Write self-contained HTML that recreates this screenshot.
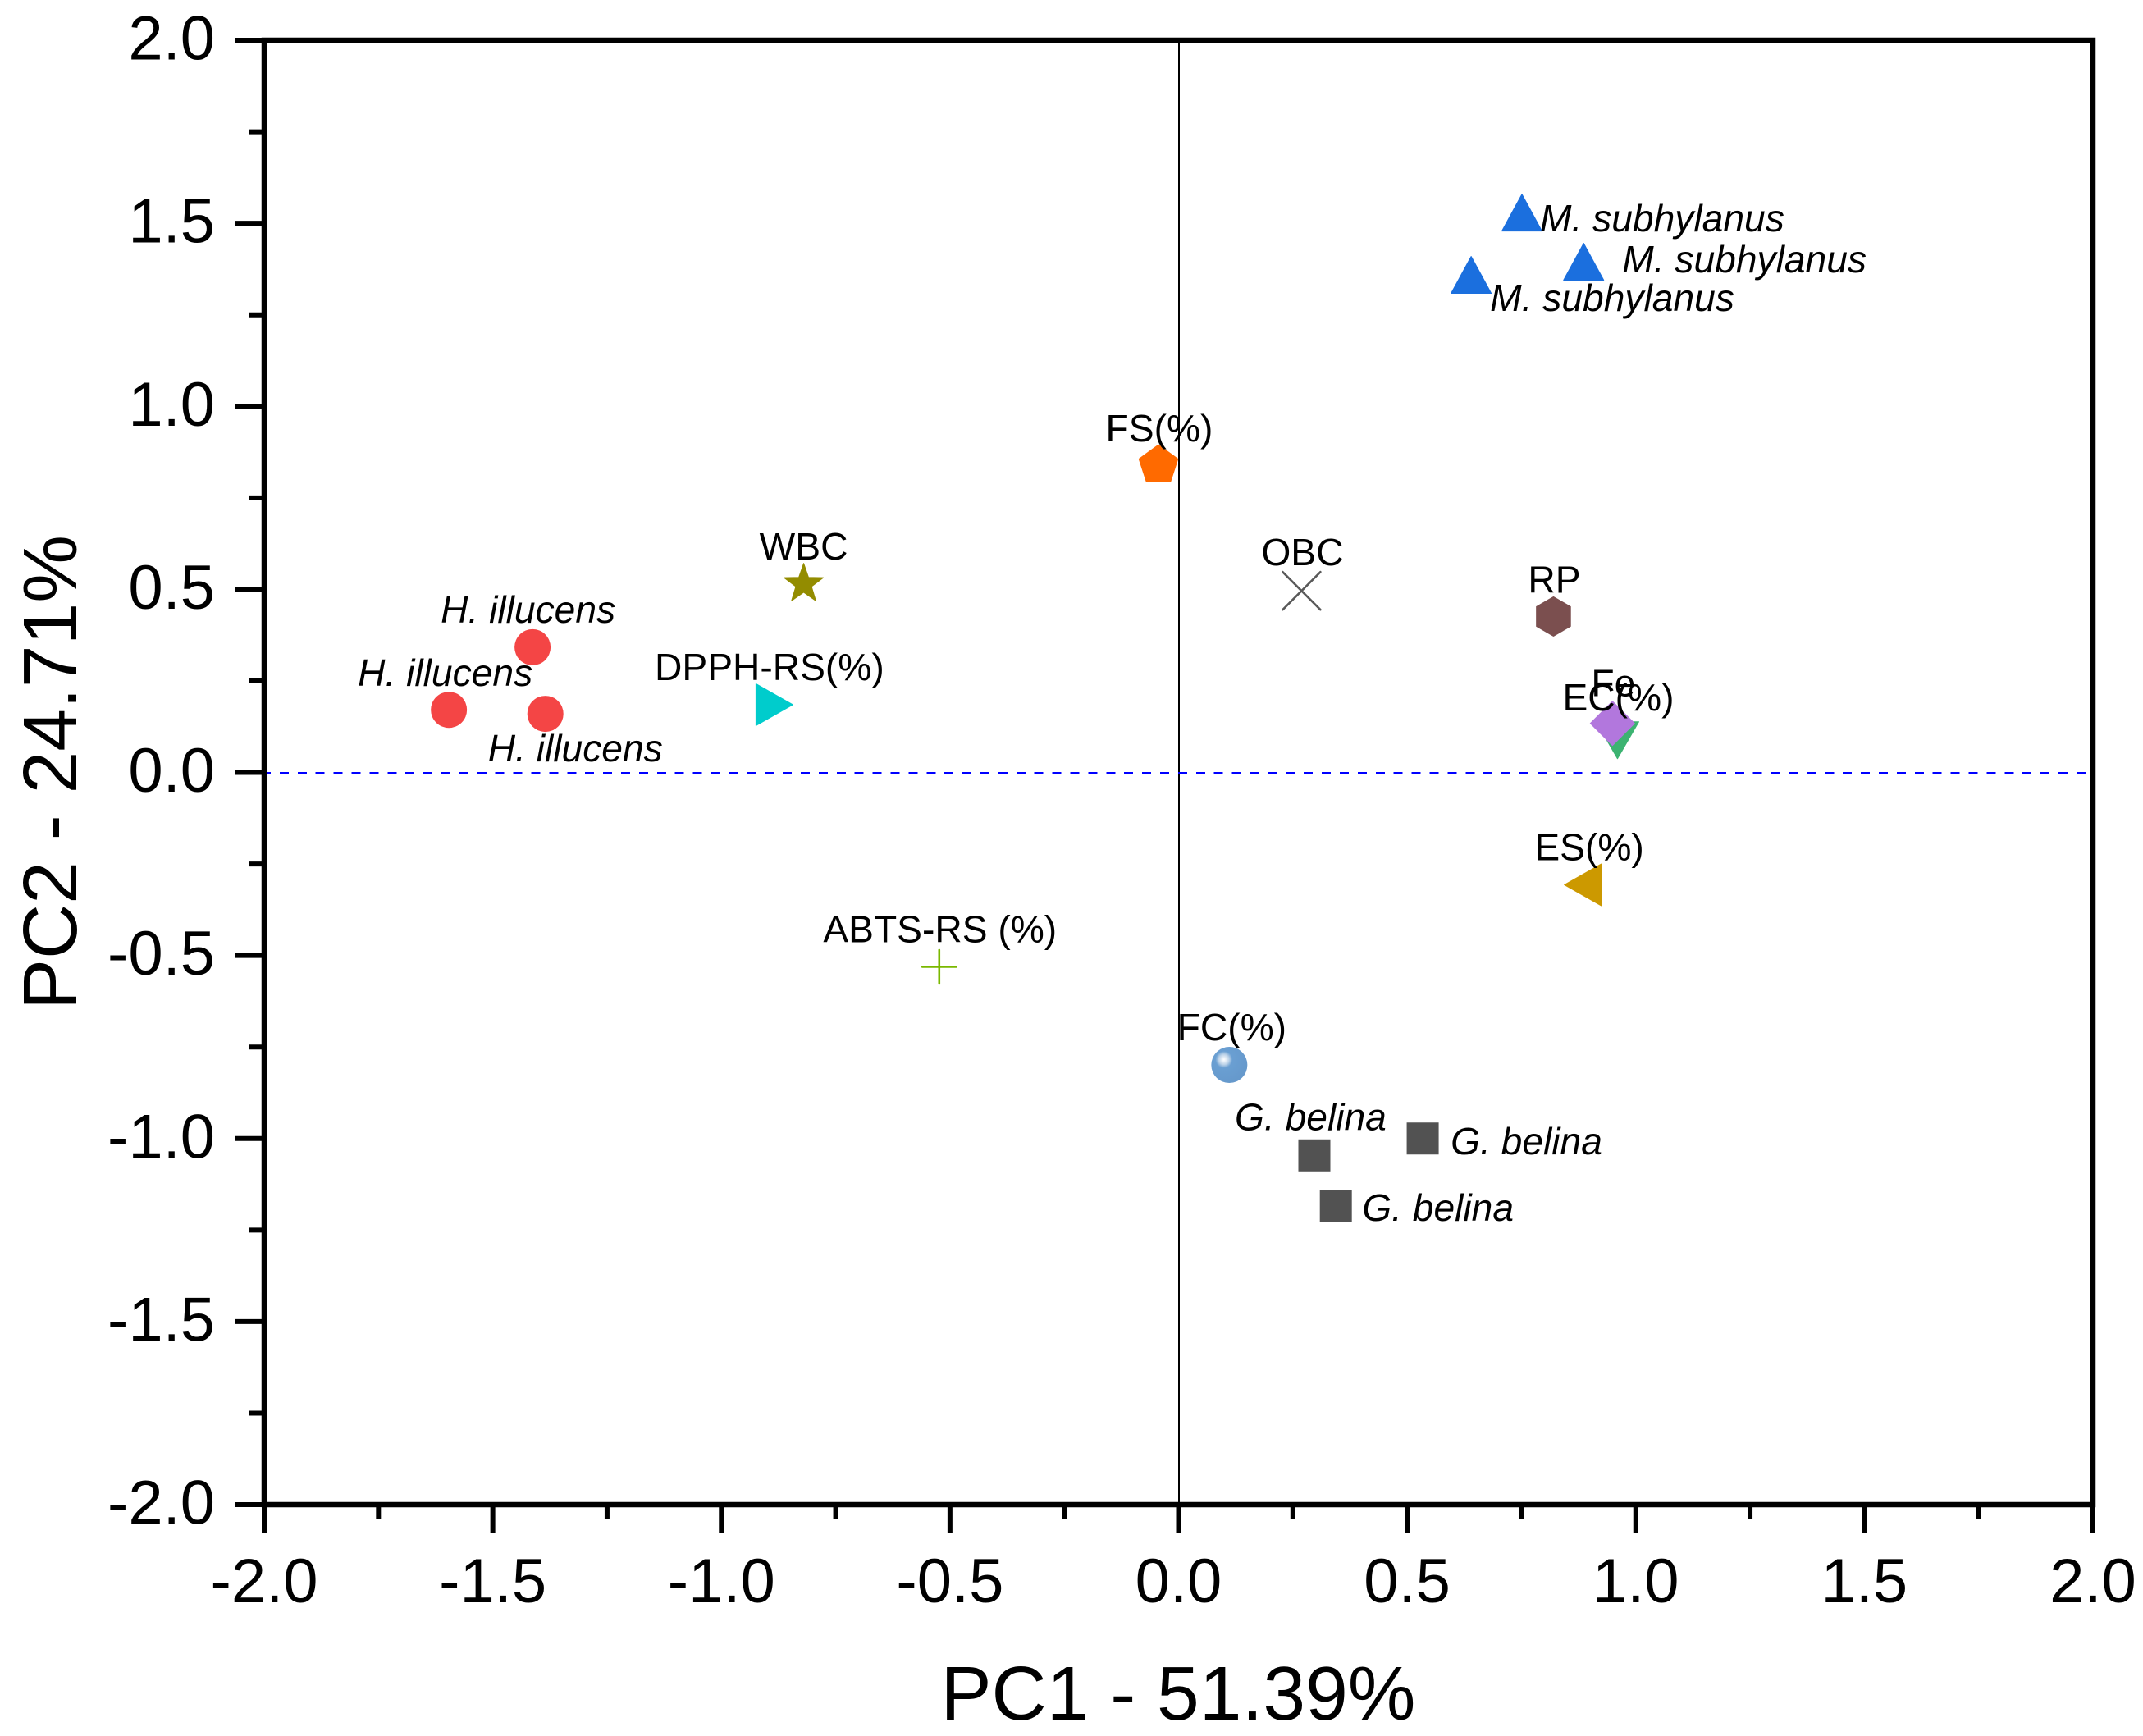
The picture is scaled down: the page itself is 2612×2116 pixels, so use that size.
<!DOCTYPE html>
<html lang="en">
<head>
<meta charset="utf-8">
<title>PCA biplot PC1 vs PC2</title>
<style>
html,body{margin:0;padding:0;background:#fff;width:2612px;height:2116px;overflow:hidden}
svg{display:block;font-family:"Liberation Sans",Arial,sans-serif}
</style>
</head>
<body>
<svg id="chart" xmlns="http://www.w3.org/2000/svg" width="2612" height="2116" viewBox="0 0 2612 2116">
  <defs>
    <radialGradient id="ball-gradient" gradientUnits="objectBoundingBox" cx="0.35" cy="0.35" r="0.65" fx="0.35" fy="0.35">
      <stop offset="0" stop-color="#ffffff"/>
      <stop offset="0.1" stop-color="#e4edf6"/>
      <stop offset="0.22" stop-color="#bcd2e8"/>
      <stop offset="0.36" stop-color="#6a9fd2"/>
      <stop offset="1" stop-color="#6699cc"/>
    </radialGradient>
  </defs>
  <rect x="0" y="0" width="2612" height="2116" fill="#ffffff"/>
  <g id="reference-lines"></g>
  <g id="axes"></g>
  <g id="marks"></g>
  <g id="labels"></g>
  <text x="1436" y="2096" font-size="93" text-anchor="middle" fill="#000">PC1 - 51.39%</text>
  <text x="0" y="0" transform="translate(93 941.5) rotate(-90)" font-size="93" text-anchor="middle" fill="#000">PC2 - 24.71%</text>
</svg>
<script>
// ---- Axis data ----
const xMajorTicks = [-2, -1.5, -1, -0.5, 0, 0.5, 1, 1.5, 2];
const xMinorTicks = [-1.75, -1.25, -0.75, -0.25, 0.25, 0.75, 1.25, 1.75];
const yMajorTicks = [-2, -1.5, -1, -0.5, 0, 0.5, 1, 1.5, 2];
const yMinorTicks = [-1.75, -1.25, -0.75, -0.25, 0.25, 0.75, 1.25, 1.75];
const tickLabels = ['-2.0', '-1.5', '-1.0', '-0.5', '0.0', '0.5', '1.0', '1.5', '2.0'];

// ---- Sample scores ----
const hIllucensPC1 = [-1.413, -1.596, -1.385];
const hIllucensPC2 = [0.342, 0.171, 0.160];
const mSubhylanusPC1 = [0.751, 0.886, 0.640];
const mSubhylanusPC2 = [1.529, 1.395, 1.359];
const gBelinaPC1 = [0.297, 0.534, 0.344];
const gBelinaPC2 = [-1.046, -1.000, -1.184];

// ---- Variable loadings ----
const variableNames = ['WBC', 'DPPH-RS(%)', 'FS(%)', 'OBC', 'RP', 'EC(%)', 'Fe', 'ES(%)', 'ABTS-RS (%)', 'FC(%)'];
const variablePC1 = [-0.820, -0.884, -0.044, 0.269, 0.820, 0.960, 0.949, 0.884, -0.5235, 0.111];
const variablePC2 = [0.5145, 0.185, 0.839, 0.496, 0.426, 0.088, 0.134, -0.307, -0.531, -0.799];

// ---- Layout (not data) ----
const plot = {left: 322, right: 2551, top: 49, bottom: 1834};
const labelStyle = {size: 46.2};
const tickFontSize = 76;
const hIllucensOffsets = [[-112, -30], [-111, -29], [-70, 58]];
const mSubhylanusOffsets = [[22, 23], [47, 13], [23, 44]];
const gBelinaOffsets = [[-97, -31], [34, 19], [32, 18]];
const variableOffsets = [[0, -30], [-6, -30], [1, -29], [1, -31], [1, -29], [1, -36], [1, -33], [8, -30], [1, -30], [3, -30]];
const variableShapes = ['star', 'triangle-right', 'pentagon', 'x', 'hexagon', 'triangle-down', 'diamond', 'triangle-left', 'plus', 'ball'];
const variableColors = ['#938c00', '#00cccc', '#ff6a00', '#595959', '#7b4f4f', '#3cb371', '#b277dd', '#cc9900', '#7ab800', '#6699cc'];
const variableMarkNames = ['wbc-marker', 'dpph-rs-marker', 'fs-marker', 'obc-marker', 'rp-marker', 'ec-marker', 'fe-marker', 'es-marker', 'abts-rs-marker', 'fc-marker'];
const variableLabelNames = ['wbc-label', 'dpph-rs-label', 'fs-label', 'obc-label', 'rp-label', 'ec-label', 'fe-label', 'es-label', 'abts-rs-label', 'fc-label'];

// ---- Scales ----
const xDomain = [-2, 2];
const yDomain = [-2, 2];
function xScale(v) { return plot.left + (v - xDomain[0]) / (xDomain[1] - xDomain[0]) * (plot.right - plot.left); }
function yScale(v) { return plot.bottom - (v - yDomain[0]) / (yDomain[1] - yDomain[0]) * (plot.bottom - plot.top); }

const SVG_NS = 'http://www.w3.org/2000/svg';
function make(tag, attrs, parent) {
  const el = document.createElementNS(SVG_NS, tag);
  for (const k in attrs) el.setAttribute(k, attrs[k]);
  parent.appendChild(el);
  return el;
}
const gRef = document.getElementById('reference-lines');
const gAxes = document.getElementById('axes');
const gMarks = document.getElementById('marks');
const gLabels = document.getElementById('labels');

// Reference lines at zero (snapped to whole pixels so they render crisp)
const zeroV = make('line', {x1: Math.round(xScale(0)), x2: Math.round(xScale(0)), y1: plot.top, y2: plot.bottom, stroke: '#000', 'stroke-width': 2}, gRef);


const zeroH = make('line', {x1: plot.left - 3, x2: plot.right, y1: Math.round(yScale(0)), y2: Math.round(yScale(0)), stroke: '#0000ff', 'stroke-width': 2, 'stroke-dasharray': '11 10.9', 'shape-rendering': 'crispEdges'}, gRef);



// Plot frame
const frame = make('rect', {x: plot.left, y: plot.top, width: plot.right - plot.left, height: plot.bottom - plot.top, fill: 'none', stroke: '#000', 'stroke-width': 6.5}, gAxes);



// Ticks
xMajorTicks.forEach(function (v, i) {
  const t = make('line', {x1: xScale(v), x2: xScale(v), y1: plot.bottom, y2: plot.bottom + 35, stroke: '#000', 'stroke-width': 6}, gAxes);
  
  
  const l = make('text', {x: xScale(v), y: 1953, 'font-size': tickFontSize, 'text-anchor': 'middle', fill: '#000'}, gAxes);
  
  
  l.textContent = tickLabels[i];
});
xMinorTicks.forEach(function (v) {
  const t = make('line', {x1: xScale(v), x2: xScale(v), y1: plot.bottom, y2: plot.bottom + 18, stroke: '#000', 'stroke-width': 6}, gAxes);
  
  
});
yMajorTicks.forEach(function (v, i) {
  const t = make('line', {x1: plot.left - 35, x2: plot.left, y1: yScale(v), y2: yScale(v), stroke: '#000', 'stroke-width': 6}, gAxes);
  
  
  const l = make('text', {x: 262, y: yScale(v) + 23.5, 'font-size': tickFontSize, 'text-anchor': 'end', fill: '#000'}, gAxes);
  
  
  l.textContent = tickLabels[i];
});
yMinorTicks.forEach(function (v) {
  const t = make('line', {x1: plot.left - 18, x2: plot.left, y1: yScale(v), y2: yScale(v), stroke: '#000', 'stroke-width': 6}, gAxes);
  
  
});

// Marker shapes
function regular(cx, cy, r, n, rot) {
  const pts = [];
  for (let i = 0; i < n; i++) {
    const a = rot + i * 2 * Math.PI / n;
    pts.push((cx + r * Math.cos(a)).toFixed(2) + ',' + (cy + r * Math.sin(a)).toFixed(2));
  }
  return pts.join(' ');
}
function starPoints(cx, cy, R) {
  const pts = [];
  for (let i = 0; i < 10; i++) {
    const r = i % 2 ? R * 0.4 : R;
    const a = -Math.PI / 2 + i * Math.PI / 5;
    pts.push((cx + r * Math.cos(a)).toFixed(2) + ',' + (cy + r * Math.sin(a)).toFixed(2));
  }
  return pts.join(' ');
}
function shapeElement(shape, cx, cy, color) {
  const poly = function (points) {
    return make('polygon', {points: points, fill: color, stroke: color, 'stroke-width': 1, 'stroke-linejoin': 'round'}, gMarks);
  };
  if (shape === 'star') return poly(starPoints(cx, cy, 25.2));
  if (shape === 'pentagon') return poly(regular(cx, cy, 25, 5, -Math.PI / 2));
  if (shape === 'hexagon') return poly(regular(cx, cy, 24, 6, -Math.PI / 2));
  if (shape === 'diamond') return poly(regular(cx, cy, 27, 4, -Math.PI / 2));
  if (shape === 'triangle-up') return poly((cx) + ',' + (cy - 22.5) + ' ' + (cx + 24.5) + ',' + (cy + 22.5) + ' ' + (cx - 24.5) + ',' + (cy + 22.5));
  if (shape === 'triangle-down') return poly((cx) + ',' + (cy + 22.5) + ' ' + (cx + 26) + ',' + (cy - 22.5) + ' ' + (cx - 26) + ',' + (cy - 22.5));
  if (shape === 'triangle-right') return poly((cx + 22.5) + ',' + cy + ' ' + (cx - 22.5) + ',' + (cy - 25.5) + ' ' + (cx - 22.5) + ',' + (cy + 25.5));
  if (shape === 'triangle-left') return poly((cx - 22.5) + ',' + cy + ' ' + (cx + 22.5) + ',' + (cy - 25.5) + ' ' + (cx + 22.5) + ',' + (cy + 25.5));
  if (shape === 'x') {
    const d = 'M' + (cx - 23) + ' ' + (cy - 23) + 'L' + (cx + 23) + ' ' + (cy + 23) + 'M' + (cx + 23) + ' ' + (cy - 23) + 'L' + (cx - 23) + ' ' + (cy + 23);
    return make('path', {d: d, fill: 'none', stroke: color, 'stroke-width': 2.6, 'stroke-linecap': 'round'}, gMarks);
  }
  if (shape === 'plus') {
    const d = 'M' + (cx - 20.5) + ' ' + cy + 'L' + (cx + 20.5) + ' ' + cy + 'M' + cx + ' ' + (cy - 20.5) + 'L' + cx + ' ' + (cy + 20.5);
    return make('path', {d: d, fill: 'none', stroke: color, 'stroke-width': 2.6, 'stroke-linecap': 'round'}, gMarks);
  }
  return make('circle', {cx: cx, cy: cy, r: 22, fill: 'url(#ball-gradient)'}, gMarks);
}
function sampleLabel(text, x, y) {
  const l = make('text', {x: x, y: y, 'font-size': labelStyle.size, 'font-style': 'italic', fill: '#000'}, gLabels);
  l.textContent = text;
  return l;
}

// Sample groups
hIllucensPC1.forEach(function (v, i) {
  const cx = xScale(v), cy = yScale(hIllucensPC2[i]);
  const m = make('circle', {cx: cx, cy: cy, r: 22, fill: '#f44545'}, gMarks);
  
  
  const l = sampleLabel('H. illucens', cx + hIllucensOffsets[i][0], cy + hIllucensOffsets[i][1]);
  
  
});
mSubhylanusPC1.forEach(function (v, i) {
  const cx = xScale(v), cy = yScale(mSubhylanusPC2[i]);
  const m = shapeElement('triangle-up', cx, cy, '#1b6fde');
  
  
  const l = sampleLabel('M. subhylanus', cx + mSubhylanusOffsets[i][0], cy + mSubhylanusOffsets[i][1]);
  
  
});
gBelinaPC1.forEach(function (v, i) {
  const cx = xScale(v), cy = yScale(gBelinaPC2[i]);
  const m = make('rect', {x: cx - 19.5, y: cy - 19.5, width: 39, height: 39, fill: '#525252'}, gMarks);
  
  
  const l = sampleLabel('G. belina', cx + gBelinaOffsets[i][0], cy + gBelinaOffsets[i][1]);
  
  
});

// Variables
variableNames.forEach(function (name, i) {
  const cx = xScale(variablePC1[i]), cy = yScale(variablePC2[i]);
  const m = shapeElement(variableShapes[i], cx, cy, variableColors[i]);
  
  
  const l = make('text', {x: cx + variableOffsets[i][0], y: cy + variableOffsets[i][1], 'font-size': labelStyle.size, 'text-anchor': 'middle', fill: '#000'}, gLabels);
  
  
  l.textContent = name;
});
</script>
</body>
</html>
